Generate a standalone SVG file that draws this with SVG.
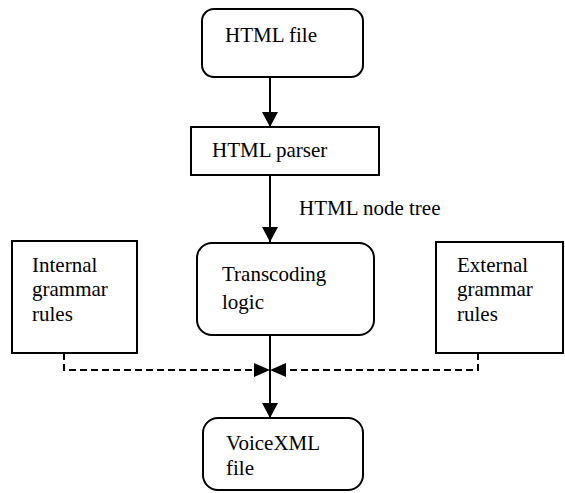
<svg xmlns="http://www.w3.org/2000/svg" width="565" height="493" viewBox="0 0 565 493">
<style>
.box{fill:#fff;stroke:#000;stroke-width:2}
.t{font-size:21px;fill:#000}
.ln{stroke:#000;stroke-width:2;fill:none}
.dash{stroke:#000;stroke-width:2;fill:none;stroke-dasharray:7,4}
</style>
<defs>
<marker id="ah" markerUnits="userSpaceOnUse" markerWidth="16" markerHeight="16" refX="15" refY="8" orient="auto">
<path d="M0,0 L15,8 L0,16 Z" fill="#000"/>
</marker>
</defs>
<rect width="565" height="493" fill="#fff"/>
<g font-family="Liberation Serif, DejaVu Serif, serif">
<g id="connectors">
<line class="ln" x1="270" y1="77" x2="270" y2="127" marker-end="url(#ah)"/>
<line class="ln" x1="270" y1="175" x2="270" y2="242" marker-end="url(#ah)"/>
<line class="ln" x1="270" y1="335" x2="270" y2="418" marker-end="url(#ah)"/>
<polyline class="dash" points="64,353 64,370 255,370"/>
<polygon points="254,363 270,370 254,377" fill="#000"/>
<polyline class="dash" points="478,353 478,370 285,370"/>
<polygon points="286,363 270,370 286,377" fill="#000"/>
<text class="t" x="299" y="215">HTML node tree</text>
</g>
<g id="html-file">
<rect class="box" x="202" y="9" width="161" height="68" rx="12"/>
<text class="t" x="225" y="42">HTML file</text>
</g>
<g id="html-parser">
<rect class="box" x="191" y="127" width="188" height="48"/>
<text class="t" x="212" y="157">HTML parser</text>
</g>
<g id="transcoding">
<rect class="box" x="197" y="243" width="177" height="92" rx="15"/>
<text class="t" x="222" y="281">Transcoding</text>
<text class="t" x="222" y="309">logic</text>
</g>
<g id="internal">
<rect class="box" x="12" y="241" width="125" height="112"/>
<text class="t" x="32" y="272">Internal</text>
<text class="t" x="32" y="296">grammar</text>
<text class="t" x="32" y="321">rules</text>
</g>
<g id="external">
<rect class="box" x="436" y="242" width="127" height="111"/>
<text class="t" x="457" y="272">External</text>
<text class="t" x="457" y="296">grammar</text>
<text class="t" x="457" y="321">rules</text>
</g>
<g id="voicexml">
<rect class="box" x="203" y="418" width="160" height="72" rx="15"/>
<text class="t" x="226" y="450">VoiceXML</text>
<text class="t" x="226" y="475">file</text>
</g>
</g>
</svg>
